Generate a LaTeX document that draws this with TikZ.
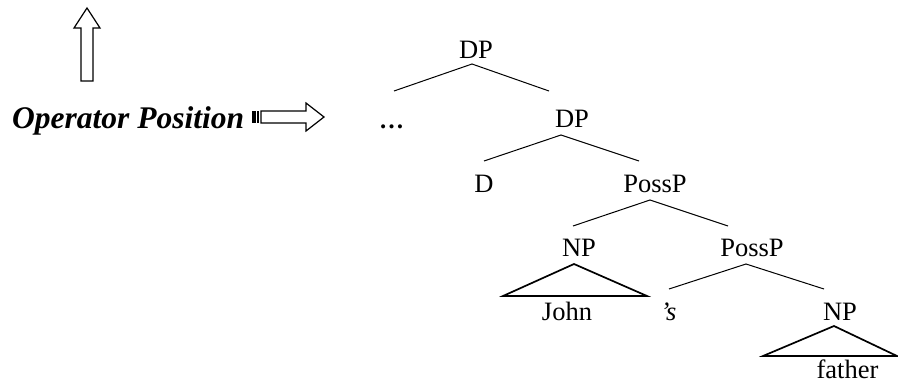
\documentclass[tikz,border=0pt]{standalone}
\usepackage{fontspec}
\setmainfont{Liberation Serif}
\begin{document}
\begin{tikzpicture}[x=1pt,y=-1pt,
  lab/.style={anchor=base,inner sep=0pt,font=\fontsize{26.5}{30}\selectfont},
  branch/.style={line width=1pt},
  tri/.style={line width=1.7pt,line join=miter},
  bigarrow/.style={draw=black,line width=1.2pt,fill=white,line join=miter}]
\useasboundingbox (0,0) rectangle (898,383);
% arrows
\draw[bigarrow] (81,81) -- (81,28) -- (74,28) -- (87,8) -- (100,28) -- (93,28) -- (93,81) -- cycle;
\draw[bigarrow] (261,111) -- (306,111) -- (306,103) -- (324,117) -- (306,131) -- (306,123) -- (261,123) -- cycle;
\fill (252,111) rectangle (255.5,123);
\fill (256.8,111) rectangle (259.2,123);
% text
\node[anchor=base west,inner sep=0pt,font=\fontsize{31.5}{36}\selectfont\bfseries\itshape] (op) at (12,128) {Operator Position};
\node[lab] (dp1) at (476,58) {DP};
\node[lab,font=\fontsize{25}{30}\selectfont\bfseries] (dots) at (391.5,128) {…};
\node[lab] (dp2) at (572,127) {DP};
\node[lab] (d) at (484,192) {D};
\node[lab] (pp1) at (655,192) {PossP};
\node[lab] (np1) at (579,256) {NP};
\node[lab] (pp2) at (752,256) {PossP};
\node[lab] (john) at (567,320) {John};
\node[lab,font=\fontsize{26.5}{30}\selectfont\itshape] (s) at (668.5,320) {’s};
\node[lab] (np2) at (840,320) {NP};
\node[lab] (father) at (847.5,378.5) {father};
% coordinates
\coordinate (a1) at (472,64); \coordinate (l1) at (394,91); \coordinate (r1) at (549,91);
\coordinate (a2) at (561,135); \coordinate (l2) at (484,161); \coordinate (r2) at (639,161);
\coordinate (a3) at (650,200); \coordinate (l3) at (573,226); \coordinate (r3) at (728,226);
\coordinate (a4) at (746,264); \coordinate (l4) at (669,289); \coordinate (r4) at (824,289);
\coordinate (t1) at (574,264); \coordinate (t1l) at (503,296); \coordinate (t1r) at (647,296);
\coordinate (t2) at (834,326); \coordinate (t2l) at (763,356); \coordinate (t2r) at (897,356);
\draw[branch] (l1) -- (a1) -- (r1);
\draw[branch] (l2) -- (a2) -- (r2);
\draw[branch] (l3) -- (a3) -- (r3);
\draw[branch] (l4) -- (a4) -- (r4);
\draw[tri] (t1) -- (t1l) -- (t1r) -- cycle;
\draw[tri] (t2) -- (t2l) -- (t2r) -- cycle;
\end{tikzpicture}
\end{document}
